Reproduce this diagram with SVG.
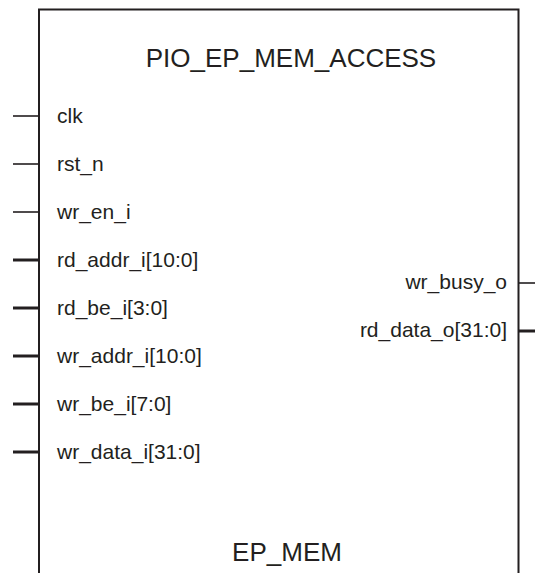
<svg xmlns="http://www.w3.org/2000/svg" width="535" height="573" viewBox="0 0 535 573">
<style>
text{font-family:"Liberation Sans",Arial,sans-serif;fill:#231f20}
.t{font-size:26px;text-anchor:middle}
.l{font-size:21px}
.r{font-size:21px;text-anchor:end}
.box{fill:none;stroke:#231f20;stroke-width:2}
.thin{stroke:#231f20;stroke-width:1.6}
.bus{stroke:#231f20;stroke-width:3}
</style>
<rect width="535" height="573" fill="#fff"/>
<g id="PIO_EP_MEM_ACCESS">
<path class="box" d="M39,574 V9.5 H518.5 V574"/>
<text class="t" x="291" y="67">PIO_EP_MEM_ACCESS</text>
<text class="t" x="287" y="561">EP_MEM</text>
<text class="l" x="57" y="123">clk</text>
<text class="l" x="57" y="171">rst_n</text>
<text class="l" x="57" y="219">wr_en_i</text>
<text class="l" x="57" y="267">rd_addr_i[10:0]</text>
<text class="l" x="57" y="315">rd_be_i[3:0]</text>
<text class="l" x="57" y="363">wr_addr_i[10:0]</text>
<text class="l" x="57" y="411">wr_be_i[7:0]</text>
<text class="l" x="57" y="459">wr_data_i[31:0]</text>
<text class="r" x="507" y="289">wr_busy_o</text>
<text class="r" x="507" y="337">rd_data_o[31:0]</text>
</g>
<g id="connectors">
<line class="thin" x1="13" y1="116" x2="39" y2="116"/>
<line class="thin" x1="13" y1="164" x2="39" y2="164"/>
<line class="thin" x1="13" y1="212" x2="39" y2="212"/>
<line class="bus" x1="13" y1="260" x2="39" y2="260"/>
<line class="bus" x1="13" y1="308" x2="39" y2="308"/>
<line class="bus" x1="13" y1="356" x2="39" y2="356"/>
<line class="bus" x1="13" y1="404" x2="39" y2="404"/>
<line class="bus" x1="13" y1="452" x2="39" y2="452"/>
<line class="thin" x1="518.5" y1="283" x2="535" y2="283"/>
<line class="bus" x1="518.5" y1="331" x2="535" y2="331"/>
</g>
</svg>
